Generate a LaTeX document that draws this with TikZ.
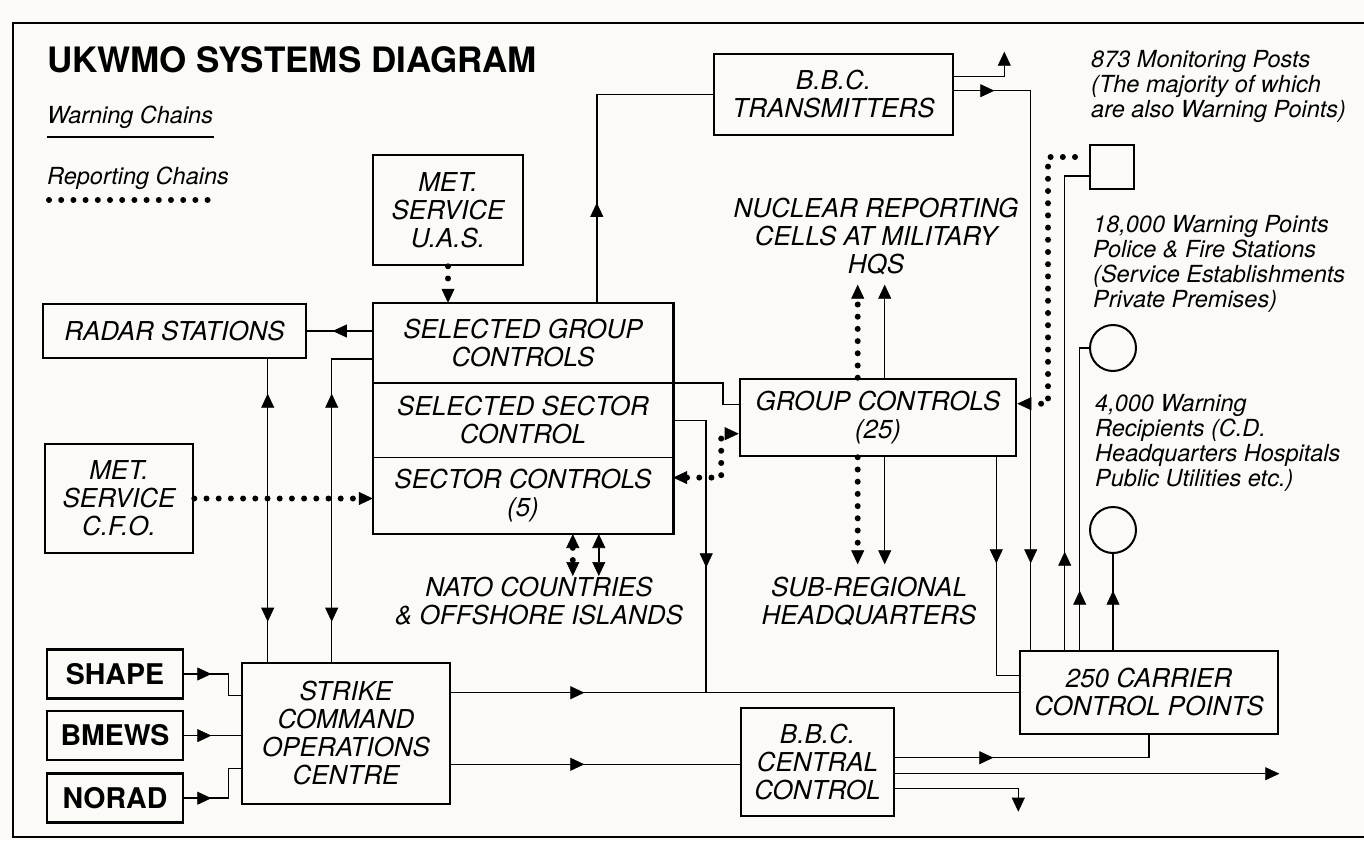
\documentclass[tikz,border=0pt]{standalone}
\usepackage{fontspec}
\setmainfont{TeX Gyre Heros}
\usetikzlibrary{arrows.meta,calc,positioning,decorations.markings}
\definecolor{paper}{RGB}{251,250,246}
\newcommand{\boxfont}{\fontsize{26}{28}\selectfont\itshape}
\newcommand{\notefont}{\fontsize{23.5}{25}\selectfont\itshape}
\newcommand{\headfont}{\fontsize{35}{40}\selectfont\bfseries}
\newcommand{\srcfont}{\fontsize{28.5}{30}\selectfont\bfseries}

\begin{document}
\begin{tikzpicture}[x=1pt,y=-1pt,
    >={Triangle[length=14pt,width=13pt,line width=0.6pt]},
    box/.style={draw,line width=2.6pt,inner sep=0pt,align=center,font=\boxfont},
    part/.style={inner sep=0pt,align=center,font=\boxfont,minimum width=300pt},
    srcbox/.style={draw,line width=2.6pt,inner sep=0pt,font=\srcfont,minimum width=136pt,minimum height=49pt},
    marker/.style={draw,line width=2pt,inner sep=0pt},
    lbl/.style={inner sep=0pt,align=center,font=\boxfont},
    note/.style={inner sep=0pt,align=left,anchor=north west,font=\notefont},
    warn/.style={line width=1.5pt},
    report/.style={line width=6pt,dash pattern=on 0pt off 12.2pt,line cap=round},
    arr/.style={postaction={decorate,decoration={markings,mark=at position #1pt with {\arrow{>}}}}},
    rarr/.style={postaction={decorate,decoration={markings,mark=at position #1pt with {\arrowreversed{>}}}}}]

\useasboundingbox (0,0) rectangle (1364,840);
\fill[paper] (0,0) rectangle (1364,840);
\draw[line width=2.5pt] (1364,23) -| (13,837) -- (1364,837);

% title and key
\node[anchor=base west,inner sep=0pt,font=\headfont] (title) at (47,73) {UKWMO SYSTEMS DIAGRAM};
\node[anchor=base west,inner sep=0pt,font=\notefont] (warnlbl) at (47,124) {Warning Chains};
\node[anchor=base west,inner sep=0pt,font=\notefont] (replbl) at (47,184) {Reporting Chains};
\draw[warn] (47,137) -- (214,137);
\draw[report] (49,200) -- (209,200);

% boxes
\node[box,minimum width=150pt,minimum height=110pt] (metuas) at (448,210) {MET.\\SERVICE\\U.A.S.};
\node[part,minimum height=80pt] (selgroup) at (523,343) {SELECTED GROUP\\CONTROLS};
\node[part,minimum height=74pt,below=0pt of selgroup] (selsector) {SELECTED SECTOR\\CONTROL};
\node[part,minimum height=76pt,below=0pt of selsector] (sectors) {SECTOR CONTROLS\\(5)};
\draw[line width=2.6pt] (selgroup.north west) rectangle (sectors.south east);
\draw[warn] (selgroup.south west) -- (selgroup.south east);
\draw[warn] (selsector.south west) -- (selsector.south east);

\node[box,minimum width=239pt,minimum height=81pt] (bbctx) at (833.5,94.5) {B.B.C.\\TRANSMITTERS};
\node[box,minimum width=263pt,minimum height=54pt] (radar) at (174.5,331) {RADAR STATIONS};
\node[box,minimum width=148pt,minimum height=109pt] (metcfo) at (119,498.5) {MET.\\SERVICE\\C.F.O.};
\node[box,minimum width=276pt,minimum height=77pt] (group) at (878,417.5) {GROUP CONTROLS\\(25)};
\node[srcbox] (shape) at (115,674) {SHAPE};
\node[srcbox,below=10pt of shape] (bmews) {BMEWS};
\node[srcbox,below=11pt of bmews] (norad) {NORAD};
\node[box,minimum width=208pt,minimum height=141pt] (strike) at (346,733.5) {STRIKE\\COMMAND\\OPERATIONS\\CENTRE};
\node[box,minimum width=153pt,minimum height=108pt] (bbccc) at (817.5,762) {B.B.C.\\CENTRAL\\CONTROL};
\node[box,minimum width=258pt,minimum height=83pt] (carrier) at (1149,692.5) {250 CARRIER\\CONTROL POINTS};
\node[marker,minimum size=44pt] (monpost) at (1112,167) {};
\node[marker,circle,minimum size=46pt] (wpc) at (1113,348) {};
\node[marker,circle,minimum size=46pt] (wrc) at (1113,530) {};

% labels
\node[lbl,anchor=north] (nuclear) at (876,198) {NUCLEAR REPORTING\\CELLS AT MILITARY\\HQS};
\node[lbl,anchor=north] (nato) at (539,577) {NATO COUNTRIES\\\& OFFSHORE ISLANDS};
\node[lbl,anchor=north] (subreg) at (869,577) {SUB-REGIONAL\\HEADQUARTERS};
\node[note] (mptext) at (1091,50) {873 Monitoring Posts\\(The majority of which\\are also Warning Points)};
\node[note] (wptext) at (1093,215) {18,000 Warning Points\\Police \& Fire Stations\\(Service Establishments\\Private Premises)};
\node[note] (wrtext) at (1095,394) {4,000 Warning\\Recipients (C.D.\\Headquarters Hospitals\\Public Utilities etc.)};

% reporting chains
\draw[report,->] (metuas.south) -- (metuas.south |- selgroup.north);
\draw[report,->] (metcfo.east) -- (metcfo.east -| sectors.west);
\draw[report,<->] ($(sectors.north east)+(0,20)$) -- ++(48,0) |- ($(group.north west)+(0,56)$);
\draw[report,->] ($(monpost.north west)+(-14,13)$) -- ++(-27,0) |- ($(group.north east)+(0,26)$);
\draw[report,->] ($(group.north west)+(119,0)$) -- ++(0,-93);
\draw[report,->] ($(group.south west)+(119,0)$) -- ++(0,107);
\draw[report,<->] ($(sectors.south west)+(200,0)$) -- ++(0,42);

% warning chains
\draw[warn,arr=40] (radar.east -| selgroup.west) -- (radar.east);
\coordinate (rs1) at ($(strike.north west)+(27,0)$);
\draw[warn,rarr=40,arr=268] (rs1) -- (rs1 |- radar.south);
\draw[warn,rarr=40,arr=268] ($(strike.north west)+(91,0)$) |- ($(selgroup.south west)+(0,-24)$);
\draw[warn,arr=27] (shape.east) -- ++(44,0) |- ($(strike.north west)+(0,34)$);
\draw[warn,arr=27] (bmews.east) -- (bmews.east -| strike.west);
\draw[warn,arr=27] (norad.east) -- ++(44,0) |- ($(strike.south west)+(0,-37)$);

\coordinate (s1) at ($(strike.north east)+(0,31)$);
\coordinate (s2) at ($(strike.south east)+(0,-41)$);
\draw[warn,arr=133] (s1) -- (s1 -| carrier.west);
\draw[warn,arr=133] (s2) -- (s2 -| bbccc.west);
\coordinate (jn) at ($(selsector.east)+(33,0)$);
\draw[warn,arr=180] (selsector.east) -- (jn) -- (jn |- s1);
\draw[warn] (selgroup.south east) -- ++(50,0) |- ($(group.north west)+(0,27)$);

\coordinate (sg) at ($(selgroup.north west)+(224,0)$);
\draw[warn,arr=100] (sg) |- ($(bbctx.north west)+(0,42)$);
\coordinate (txup) at ($(bbctx.north east)+(50,-1)$);
\draw[warn,->] ($(bbctx.north east)+(0,24)$) -| (txup);
\draw[warn,arr=40,arr=549] ($(bbctx.north east)+(0,38)$) -| ($(carrier.north west)+(12,0)$);

\draw[warn,->] ($(group.north west)+(146,0)$) -- ++(0,-93);
\draw[warn,->] ($(group.south west)+(146,0)$) -- ++(0,107);
\draw[warn,<->] ($(sectors.south west)+(226,0)$) -- ++(0,42);
\draw[warn,arr=106] ($(group.south east)+(-21,0)$) |- ($(carrier.north west)+(0,26)$);

\draw[warn,arr=98] ($(carrier.north west)+(46,0)$) |- ($(monpost.south west)+(0,-14)$);
\draw[warn,arr=59] ($(carrier.north west)+(61,0)$) |- (wpc.west);
\draw[warn,arr=59] (wrc.south |- carrier.north) -- (wrc.south);

\draw[warn,arr=98] ($(bbccc.north east)+(0,51)$) -| (carrier.south);
\coordinate (ccout) at ($(bbccc.north east)+(384,67)$);
\draw[warn,->] ($(bbccc.north east)+(0,67)$) -- (ccout);
\coordinate (ccdown) at ($(bbccc.north east)+(123,105)$);
\draw[warn,->] ($(bbccc.north east)+(0,82)$) -| (ccdown);
\end{tikzpicture}
\end{document}
